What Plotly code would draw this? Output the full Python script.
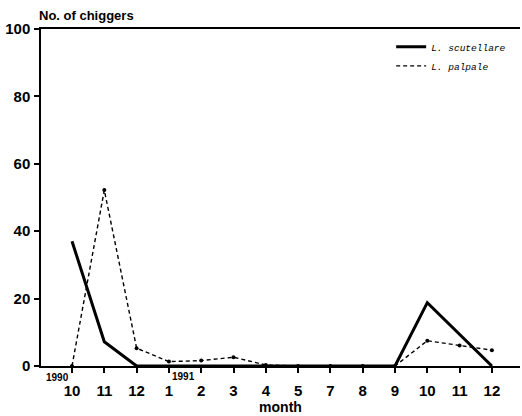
import plotly.graph_objects as go

months = ["10", "11", "12", "1", "2", "3", "4", "5", "7", "8", "9", "10", "11", "12"]
scutellare = [37, 7.2, 0, 0, 0, 0, 0, 0, 0, 0, 0, 18.8, 9.5, 0]
palpale = [0, 52.2, 5.3, 1.3, 1.6, 2.6, 0.3, 0, 0, 0, 0, 7.5, 6.1, 4.7]
y_ticks = [0, 20, 40, 60, 80, 100]

x = list(range(len(months)))
font_fam = "Liberation Sans, Arial, sans-serif"

fig = go.Figure()
fig.add_trace(go.Scatter(
    x=x, y=scutellare, mode="lines", name="<i>L. scutellare</i>",
    line=dict(color="black", width=3), cliponaxis=False))
fig.add_trace(go.Scatter(
    x=x, y=palpale, mode="lines", name="<i>L. palpale</i>",
    line=dict(color="black", width=1.4, dash="4px,3px"), cliponaxis=False))
fig.add_trace(go.Scatter(
    x=x, y=palpale, mode="markers", showlegend=False,
    marker=dict(size=4, color="black"), cliponaxis=False))

fig.update_layout(
    width=522, height=416,
    margin=dict(l=41, r=2, t=29, b=50),
    paper_bgcolor="white", plot_bgcolor="white",
    font=dict(family=font_fam, color="black"),
    showlegend=True,
    legend=dict(x=0.731, y=0.99, xanchor="left", yanchor="top",
                bgcolor="rgba(0,0,0,0)",
                font=dict(family="Liberation Mono, monospace", size=9.5, color="black"),
                itemwidth=30, tracegroupgap=0),
    xaxis=dict(range=[-0.96, 13.87], tickvals=x, ticktext=months,
               showgrid=False, zeroline=False, showline=True, linecolor="black",
               linewidth=1.5, mirror=True, ticks="outside", ticklen=5,
               tickcolor="black", tickwidth=1.5, ticklabelstandoff=5,
               tickfont=dict(size=15, family=font_fam, weight="bold"),
               title=dict(text="<b>month</b>", font=dict(size=14), standoff=4)),
    yaxis=dict(range=[0, 100], tickvals=y_ticks, showgrid=False, zeroline=False,
               showline=True, linecolor="black", linewidth=1.5,
               ticks="outside", ticklen=5, tickcolor="black", tickwidth=1.5,
               ticklabelstandoff=1,
               tickfont=dict(size=15, family=font_fam, weight="bold")),
)

fig.add_annotation(text="<b>No. of chiggers</b>", xref="paper", yref="paper",
                   x=-0.008, y=1.0, xanchor="left", yanchor="bottom", yshift=4,
                   showarrow=False, font=dict(size=13, family=font_fam))
fig.add_annotation(text="1990", xref="x", yref="paper", x=-0.45, y=0,
                   yanchor="top", yshift=-4, showarrow=False,
                   font=dict(size=10, family=font_fam, weight="bold"))
fig.add_annotation(text="1991", xref="x", yref="paper", x=3.44, y=0,
                   yanchor="top", yshift=-3, showarrow=False,
                   font=dict(size=10, family=font_fam, weight="bold"))

fig.write_html("out.html", config={"displayModeBar": False},
               post_script="document.body.style.margin='0';")
